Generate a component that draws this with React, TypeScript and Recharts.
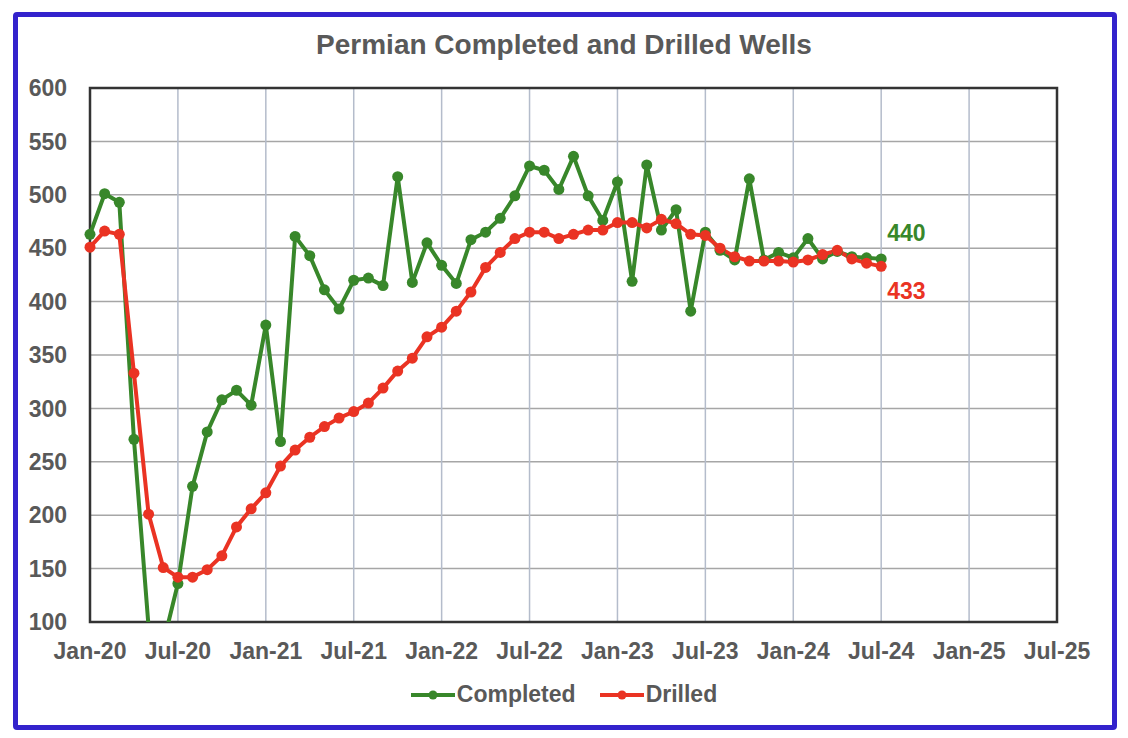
import {
  CartesianGrid,
  LabelList,
  Line,
  LineChart,
  ReferenceArea,
  XAxis,
  YAxis,
} from 'recharts';

const months = [
  'Jan-20', 'Feb-20', 'Mar-20', 'Apr-20', 'May-20', 'Jun-20', 'Jul-20', 'Aug-20', 'Sep-20', 'Oct-20', 'Nov-20', 'Dec-20',
  'Jan-21', 'Feb-21', 'Mar-21', 'Apr-21', 'May-21', 'Jun-21', 'Jul-21', 'Aug-21', 'Sep-21', 'Oct-21', 'Nov-21', 'Dec-21',
  'Jan-22', 'Feb-22', 'Mar-22', 'Apr-22', 'May-22', 'Jun-22', 'Jul-22', 'Aug-22', 'Sep-22', 'Oct-22', 'Nov-22', 'Dec-22',
  'Jan-23', 'Feb-23', 'Mar-23', 'Apr-23', 'May-23', 'Jun-23', 'Jul-23', 'Aug-23', 'Sep-23', 'Oct-23', 'Nov-23', 'Dec-23',
  'Jan-24', 'Feb-24', 'Mar-24', 'Apr-24', 'May-24', 'Jun-24', 'Jul-24',
];

const completed = [
  463, 501, 493, 271, 95, 80, 136, 227, 278, 308, 317, 303,
  378, 269, 461, 443, 411, 393, 420, 422, 415, 517, 418, 455,
  434, 417, 458, 465, 478, 499, 527, 523, 505, 536, 499, 476,
  512, 419, 528, 467, 486, 391, 465, 448, 439, 515, 439, 446,
  441, 459, 440, 447, 442, 441, 440,
];

const drilled = [
  451, 466, 463, 333, 201, 151, 142, 142, 149, 162, 189, 206,
  221, 246, 261, 273, 283, 291, 297, 305, 319, 335, 347, 367,
  376, 391, 409, 432, 446, 459, 465, 465, 459, 463, 467, 467,
  474, 474, 469, 477, 473, 463, 462, 450, 442, 438, 438, 438,
  437, 439, 444, 448, 440, 436, 433,
];

// one tick every 6 months, Jan-20 .. Jul-25
const tickLabels = [
  'Jan-20', 'Jul-20', 'Jan-21', 'Jul-21', 'Jan-22', 'Jul-22',
  'Jan-23', 'Jul-23', 'Jan-24', 'Jul-24', 'Jan-25', 'Jul-25',
];
const yTicks = [100, 150, 200, 250, 300, 350, 400, 450, 500, 550, 600];

const GREEN = '#38872a';
const RED = '#ea3323';
const TEXT = '#595959';
const FONT = '"Liberation Sans", Arial, sans-serif';

const data = months.map((m, i) => ({
  idx: i,
  month: m,
  completed: completed[i],
  drilled: drilled[i],
}));
const xTicks = tickLabels.map((_, i) => i * 6);
const lastIdx = months.length - 1;

function endLabel(color: string, dy: number) {
  return (props: any) => {
    const { x, y, index, value } = props;
    if (index !== lastIdx) return null;
    return (
      <text
        x={x + 6}
        y={y + dy}
        fill={color}
        fontSize={23}
        fontWeight="bold"
        fontFamily={FONT}
        dominantBaseline="central"
      >
        {value}
      </text>
    );
  };
}

function LegendItem({ color, label }: { color: string; label: string }) {
  return (
    <span style={{ display: 'inline-flex', alignItems: 'center', marginRight: 24 }}>
      <svg width={44} height={12} style={{ marginRight: 2 }}>
        <line x1={0} y1={6} x2={44} y2={6} stroke={color} strokeWidth={4} />
        <circle cx={22} cy={6} r={4.5} fill={color} />
      </svg>
      {label}
    </span>
  );
}

export default function App() {
  return (
    <div
      style={{
        position: 'absolute',
        left: 0,
        top: 0,
        width: 1128,
        height: 738,
        background: '#fff',
        fontFamily: FONT,
      }}
    >
      <div
        style={{
          position: 'absolute',
          left: 13,
          top: 12,
          width: 1094,
          height: 708,
          border: '5px solid #3322cc',
          borderRadius: 4,
        }}
      />
      <div
        style={{
          position: 'absolute',
          left: 0,
          width: 1128,
          top: 29,
          textAlign: 'center',
          fontSize: 28,
          fontWeight: 'bold',
          color: TEXT,
        }}
      >
        Permian Completed and Drilled Wells
      </div>

      <div style={{ position: 'absolute', left: 0, top: 0 }}>
        <LineChart
          width={1128}
          height={738}
          data={data}
          margin={{ top: 88, right: 71, bottom: 76, left: 30 }}
        >
          <CartesianGrid vertical={false} stroke="#a6a6a6" strokeWidth={1.5} />
          <CartesianGrid horizontal={false} stroke="#b4bccb" strokeWidth={1.5} />
          <XAxis
            type="number"
            dataKey="idx"
            domain={[0, 66]}
            ticks={xTicks}
            tickFormatter={(v: number) => tickLabels[v / 6]}
            interval={0}
            axisLine={false}
            tickLine={false}
            tickMargin={15}
            height={40}
            tick={{ fill: TEXT, fontSize: 23, fontWeight: 'bold', fontFamily: FONT }}
          />
          <YAxis
            type="number"
            domain={[100, 600]}
            ticks={yTicks}
            allowDataOverflow
            interval={0}
            axisLine={false}
            tickLine={false}
            tickMargin={17}
            width={60}
            tick={{ fill: TEXT, fontSize: 23, fontWeight: 'bold', fontFamily: FONT }}
          />
          <ReferenceArea
            x1={0}
            x2={66}
            y1={100}
            y2={600}
            fill="none"
            stroke="#333"
            strokeWidth={2.5}
            ifOverflow="visible"
          />
          <Line
            type="linear"
            dataKey="completed"
            stroke={GREEN}
            strokeWidth={4}
            dot={{ r: 5.5, fill: GREEN, stroke: GREEN, strokeWidth: 0 }}
            activeDot={false}
            isAnimationActive={false}
          >
            <LabelList dataKey="completed" content={endLabel(GREEN, -26)} />
          </Line>
          <Line
            type="linear"
            dataKey="drilled"
            stroke={RED}
            strokeWidth={4}
            dot={{ r: 5.5, fill: RED, stroke: RED, strokeWidth: 0 }}
            activeDot={false}
            isAnimationActive={false}
          >
            <LabelList dataKey="drilled" content={endLabel(RED, 25)} />
          </Line>
        </LineChart>
      </div>

      <div
        style={{
          position: 'absolute',
          left: 0,
          width: 1128,
          top: 681,
          display: 'flex',
          justifyContent: 'center',
          fontSize: 23,
          fontWeight: 'bold',
          color: TEXT,
          paddingLeft: 24,
          boxSizing: 'border-box',
        }}
      >
        <LegendItem color={GREEN} label="Completed" />
        <LegendItem color={RED} label="Drilled" />
      </div>
    </div>
  );
}
